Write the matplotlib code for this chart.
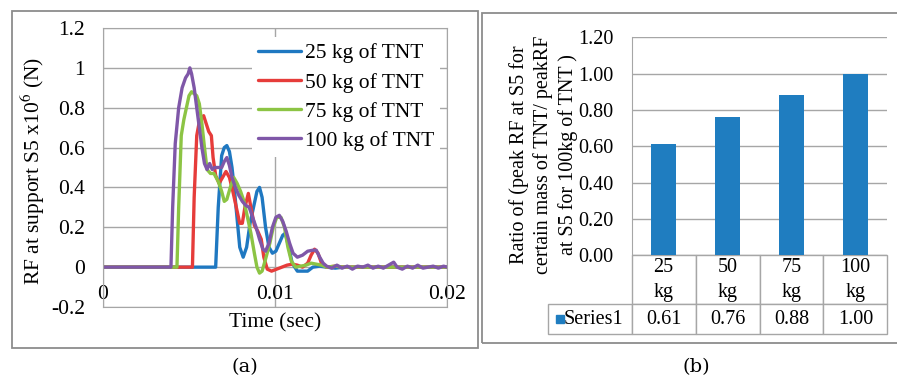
import numpy as np
from matplotlib import pyplot as plt
from matplotlib.patches import Rectangle
from matplotlib.table import Table
from matplotlib.ticker import FuncFormatter

plt.rcParams['font.family'] = ['Liberation Serif', 'DejaVu Serif']
plt.rcParams['mathtext.fontset'] = 'stix'

# reaction force at support S5 (x1e6 N) vs time (ms)
t_25 = [0, 6.55, 6.7, 6.9, 7.05, 7.2, 7.35, 7.5, 7.65, 7.8, 7.95, 8.15, 8.35, 8.55, 8.75,
        8.95, 9.1, 9.25, 9.45, 9.65, 9.85, 10.05, 10.25, 10.45, 10.6, 10.8, 11.0, 11.3, 11.6,
        11.9, 12.2, 12.6, 13.0, 13.5, 14.0, 15.0, 16.0, 17.0, 18.0, 19.0, 20.0]
rf_25 = [0, 0, 0.3, 0.56, 0.6, 0.61, 0.58, 0.5, 0.38, 0.24, 0.1, 0.05, 0.1, 0.22, 0.3,
         0.38, 0.4, 0.35, 0.2, 0.1, 0.07, 0.08, 0.12, 0.16, 0.17, 0.1, 0.02, -0.02, -0.02,
         -0.02, 0.0, 0.005, 0.0, -0.005, 0.0, 0.0, 0.0, 0.0, 0.0, 0.0, 0.0]

t_50 = [0, 5.2, 5.3, 5.45, 5.6, 5.75, 5.85, 6.0, 6.15, 6.3, 6.4, 6.55, 6.75, 6.95, 7.15,
        7.35, 7.55, 7.75, 7.95, 8.1, 8.25, 8.45, 8.6, 8.8, 9.0, 9.2, 9.35, 9.55, 9.8, 10.1,
        10.4, 10.7, 11.0, 11.3, 11.6, 11.9, 12.1, 12.3, 12.5, 12.7, 13.0, 13.5, 14.0, 15.0,
        16.0, 17.0, 18.0, 19.0, 20.0]
rf_50 = [0, 0, 0.35, 0.66, 0.73, 0.75, 0.76, 0.72, 0.68, 0.66, 0.55, 0.46, 0.42, 0.45, 0.48,
         0.45, 0.38, 0.3, 0.22, 0.22, 0.3, 0.37, 0.3, 0.21, 0.18, 0.14, 0.05, -0.01, -0.02, -0.01,
         0.0, 0.01, 0.015, 0.01, 0.0, 0.02, 0.06, 0.09, 0.07, 0.02, 0.0, 0.005, 0.0, 0.0,
         0.0, 0.0, 0.0, 0.0, 0.0]

t_75 = [0, 4.3, 4.4, 4.55, 4.7, 4.85, 5.0, 5.15, 5.3, 5.45, 5.6, 5.75, 5.9, 6.05, 6.25,
        6.45, 6.7, 6.9, 7.05, 7.2, 7.4, 7.6, 7.8, 8.0, 8.2, 8.4, 8.6, 8.8, 8.95, 9.1, 9.25,
        9.45, 9.7, 9.9, 10.1, 10.35, 10.55, 10.75, 10.95, 11.2, 11.5, 11.8, 12.1, 12.4, 12.7,
        13.0, 13.5, 14.0, 15.0, 16.0, 17.0, 18.0, 19.0, 20.0]
rf_75 = [0, 0, 0.3, 0.66, 0.74, 0.8, 0.86, 0.88, 0.87, 0.86, 0.82, 0.72, 0.6, 0.49, 0.47,
         0.47, 0.43, 0.38, 0.33, 0.34, 0.4, 0.45, 0.42, 0.38, 0.33, 0.25, 0.17, 0.07, 0.0, -0.03, -0.02,
         0.04, 0.12, 0.2, 0.25, 0.25, 0.2, 0.1, 0.03, 0.0, 0.005, 0.01, 0.02, 0.015, 0.01,
         0.0, 0.005, 0.0, 0.0, 0.0, 0.0, 0.0, 0.0, 0.0]

t_100 = [0, 3.95, 4.05, 4.2, 4.4, 4.6, 4.8, 4.95, 5.05, 5.15, 5.3, 5.45, 5.6, 5.75, 5.9,
         6.05, 6.2, 6.35, 6.5, 6.7, 6.9, 7.05, 7.2, 7.35, 7.5, 7.7, 7.9, 8.1, 8.3, 8.5, 8.7,
         8.9, 9.1, 9.3, 9.45, 9.65, 9.85, 10.05, 10.25, 10.45, 10.65, 10.85, 11.05, 11.3, 11.6,
         11.9, 12.2, 12.4, 12.6, 12.8, 13.0, 13.3, 13.6, 13.9, 14.2, 14.5, 14.8, 15.1, 15.4,
         15.7, 16.0, 16.3, 16.6, 16.9, 17.1, 17.4, 17.7, 18.0, 18.3, 18.6, 18.9, 19.2, 19.5,
         19.8, 20.0]
rf_100 = [0, 0, 0.3, 0.62, 0.8, 0.9, 0.95, 0.97, 1.0, 0.97, 0.9, 0.8, 0.7, 0.6, 0.52,
          0.49, 0.52, 0.49, 0.5, 0.5, 0.5, 0.53, 0.55, 0.51, 0.45, 0.4, 0.36, 0.33, 0.31, 0.3, 0.25,
          0.2, 0.14, 0.09, 0.08, 0.12, 0.2, 0.25, 0.26, 0.23, 0.18, 0.12, 0.07, 0.05, 0.06,
          0.08, 0.085, 0.085, 0.05, 0.02, 0.005, -0.005, 0.01, -0.005, 0.005, -0.01, 0.005, 0.0, 0.01,
          -0.005, 0.005, -0.005, 0.01, 0.025, 0.0, -0.01, 0.005, -0.005, 0.01, -0.005, 0.0, 0.005, -0.005,
          0.005, 0.0]

series_labels = ['25 kg of TNT', '50 kg of TNT', '75 kg of TNT', '100 kg of TNT']
series_colors = ['#1f78c1', '#e63c3a', '#8cc444', '#7f57a8']

# peak ratio relative to 100 kg
masses = ['25\nkg', '50\nkg', '75\nkg', '100\nkg']
ratios = [0.61, 0.76, 0.88, 1.00]
bar_color = '#1f7dc0'

W, H = 897, 380
grid_col = '#a6a6a6'

fig = plt.figure(figsize=(W / 100, H / 100), dpi=100)

def fig_box(x0, y0, x1, y1):
    # pixel box (top-left origin) -> figure fraction rect
    return [x0 / W, 1 - y1 / H, (x1 - x0) / W, (y1 - y0) / H]

# panel frames
for x0, y0, x1, y1 in [(12, 11, 478, 348), (482, 13, 905, 343)]:
    b = fig_box(x0, y0, x1, y1)
    fig.add_artist(Rectangle((b[0], b[1]), b[2], b[3], transform=fig.transFigure,
                             fill=False, edgecolor='#8c8c8c', lw=1.3))

# ---- (a) time histories ----
ax1 = fig.add_axes(fig_box(103, 28, 447, 307))
curves = [(t_25, rf_25), (t_50, rf_50), (t_75, rf_75), (t_100, rf_100)]
for (t, rf), lab, col in zip(curves, series_labels, series_colors):
    assert len(t) == len(rf), lab
    ax1.plot(np.array(t) * 1e-3, rf, color=col, lw=2.4, label=lab,
             solid_joinstyle='round', solid_capstyle='round')

ax1.set_xlim(0, 0.02)
ax1.set_ylim(-0.2, 1.2)
ax1.set_xticks([0, 0.01, 0.02])
ax1.set_yticks(np.arange(-0.2, 1.21, 0.2))
fmt = FuncFormatter(lambda v, p: f'{round(v, 3):g}')
ax1.xaxis.set_major_formatter(fmt)
ax1.yaxis.set_major_formatter(fmt)
ax1.tick_params(axis='both', length=0, labelsize=15.5)
ax1.tick_params(axis='y', pad=13)
ax1.tick_params(axis='x', pad=-15.5)
ax1.grid(True, color=grid_col, lw=1)
ax1.set_axisbelow(True)
for s in ax1.spines.values():
    s.set_color(grid_col)

ax1.set_ylabel(r'RF at support S5 x10$^{6}$ (N)', fontsize=15.5, va='center')
ax1.yaxis.set_label_coords(-0.203, 0.487)
ax1.set_xlabel('Time (sec)', fontsize=15.5, va='center')
ax1.xaxis.set_label_coords(0.5, -0.057)

leg = ax1.legend(loc='upper left', bbox_to_anchor=(0.433, 0.968), fontsize=15.5,
                 handlelength=2.0, handletextpad=0.15, labelspacing=0.42,
                 borderpad=0.3, borderaxespad=0, frameon=True, fancybox=False)
leg.get_frame().set_facecolor('white')
leg.get_frame().set_edgecolor('none')
leg.get_frame().set_alpha(1)

# ---- (b) peak ratios ----
ax2 = fig.add_axes(fig_box(631.7, 37.3, 887.3, 255.3))
ax2.bar(range(len(ratios)), ratios, width=0.4, color=bar_color, zorder=3)
ax2.set_xlim(-0.5, len(ratios) - 0.5)
ax2.set_ylim(0, 1.2)
ax2.set_yticks(np.arange(0, 1.21, 0.2))
ax2.yaxis.set_major_formatter(FuncFormatter(lambda v, p: f'{v:.2f}'))
ax2.set_xticks([])
ax2.tick_params(axis='y', length=0, labelsize=14.5, pad=13)
ax2.grid(True, axis='y', color=grid_col, lw=1)
ax2.set_axisbelow(True)
for side in ['top', 'right', 'bottom']:
    ax2.spines[side].set_visible(False)
ax2.spines['left'].set_color(grid_col)

ax2.set_ylabel('Ratio of (peak RF at S5 for\ncertain mass of TNT/ peakRF\nat S5 for 100kg of TNT )',
               fontsize=14.5, va='center', linespacing=1.3)
ax2.yaxis.set_label_coords(-0.345, 0.46)

# data table under the bars
ax_w, ax_h = 255.6, 218.0
key_w, col_w, head_h, row_h = 84, 63.9, 49, 29.4
tb = Table(ax2, bbox=[-key_w / ax_w, -(head_h + row_h) / ax_h,
                      (key_w + col_w * len(ratios)) / ax_w, (head_h + row_h) / ax_h])
for j, m in enumerate(masses):
    tb.add_cell(0, j + 1, width=col_w, height=head_h, text=m, loc='center')
tb.add_cell(1, 0, width=key_w, height=row_h, text='Series1', loc='right')
for j, r in enumerate(ratios):
    tb.add_cell(1, j + 1, width=col_w, height=row_h, text=f'{r:.2f}', loc='center')
tb.auto_set_font_size(False)
tb.set_fontsize(14.5)
for cell in tb.get_celld().values():
    cell.set_edgecolor(grid_col)
    cell.set_linewidth(1)
    cell.get_text().set_linespacing(1.4)
ax2.add_table(tb)

# legend key in the table
ax2.add_patch(Rectangle(((556 - 631.7) / ax_w, (255.3 - 323) / ax_h), 8 / ax_w, 8 / ax_h,
                        transform=ax2.transAxes, color=bar_color, clip_on=False))

fig.text(245 / W, 1 - 367 / H, '(a)', ha='center', va='center', fontsize=14, family='DejaVu Serif')
fig.text(696 / W, 1 - 367 / H, '(b)', ha='center', va='center', fontsize=14, family='DejaVu Serif')

fig.savefig('out.png', dpi=100)
